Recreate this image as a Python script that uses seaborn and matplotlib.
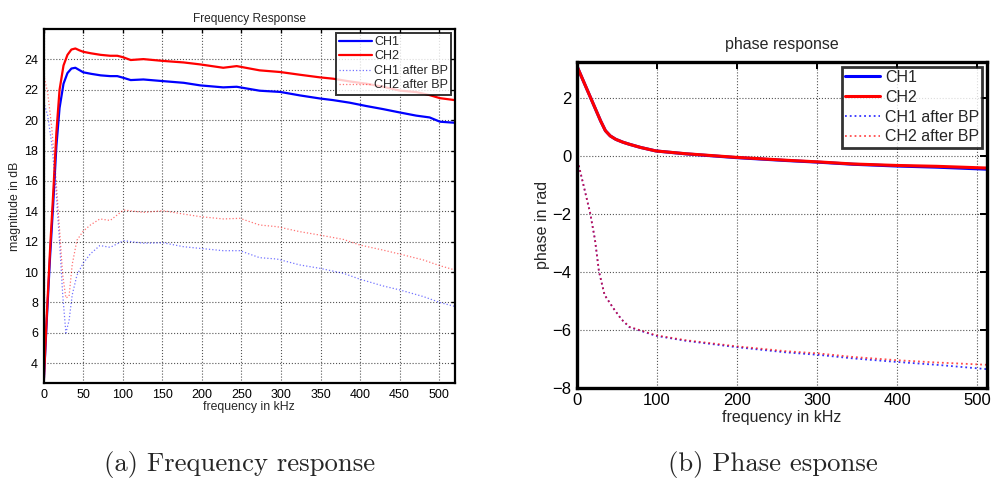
import numpy as np
import pandas as pd
import matplotlib
matplotlib.use("Agg")
import matplotlib.pyplot as plt
import seaborn as sns

# magnitude response
f_mag = [0, 4, 8, 12, 16, 20, 25, 30, 35, 40, 45, 50, 60, 72, 84, 93, 100, 110, 126, 151, 177, 198, 227,
         244, 273, 299, 324, 349, 366, 387, 408, 429, 450, 471, 488, 501, 520]
ch1_mag = [2.7, 7.0, 11.0, 14.5, 18.3, 20.8, 22.4, 23.1, 23.4, 23.45, 23.3, 23.15, 23.05, 22.95, 22.9, 22.9,
           22.8, 22.64, 22.68, 22.57, 22.46, 22.29, 22.16, 22.2, 21.94, 21.86, 21.63, 21.43, 21.32, 21.15,
           20.93, 20.73, 20.51, 20.3, 20.18, 19.9, 19.83]
ch2_mag = [2.7, 7.3, 11.5, 15.2, 19.2, 22.0, 23.6, 24.3, 24.65, 24.72, 24.6, 24.5, 24.4, 24.3, 24.24, 24.24,
           24.15, 23.96, 24.02, 23.9, 23.8, 23.67, 23.45, 23.56, 23.28, 23.17, 22.99, 22.82, 22.73, 22.55,
           22.4, 22.2, 21.95, 21.85, 21.65, 21.45, 21.32]

f_bp = [0, 5, 10, 15, 20, 24, 28, 32, 36, 42, 50, 59, 71, 84, 101, 126, 151, 177, 198, 227, 248, 273, 295,
        324, 349, 379, 400, 429, 450, 480, 501, 520]
ch1_bp_mag = [21.2, 20.3, 18.5, 15.8, 12.0, 8.5, 6.0, 6.8, 8.5, 9.8, 10.6, 11.2, 11.75, 11.63, 12.07, 11.9,
              11.93, 11.67, 11.56, 11.41, 11.41, 10.95, 10.86, 10.47, 10.25, 9.92, 9.53, 9.09, 8.83, 8.39,
              8.0, 7.74]
ch2_bp_mag = [23.0, 21.8, 19.6, 16.5, 12.8, 9.8, 8.3, 8.4, 10.5, 12.1, 12.7, 13.1, 13.5, 13.4, 14.09, 13.93,
              14.04, 13.82, 13.65, 13.5, 13.54, 13.1, 12.99, 12.66, 12.44, 12.15, 11.78, 11.45, 11.19, 10.8,
              10.42, 10.14]

# phase response
f_ph = [0, 10, 20, 30, 36, 42, 49, 58, 66, 80, 99, 136, 199, 261, 303, 345, 399, 449, 512]
ch1_ph = [3.14, 2.5, 1.86, 1.22, 0.88, 0.7, 0.58, 0.48, 0.41, 0.3, 0.18, 0.08, -0.05, -0.15, -0.21, -0.28,
          -0.34, -0.38, -0.45]
ch2_ph = [3.14, 2.5, 1.86, 1.22, 0.88, 0.7, 0.58, 0.48, 0.41, 0.3, 0.18, 0.085, -0.04, -0.14, -0.2, -0.27,
          -0.32, -0.35, -0.41]
f_ph_bp = [0, 4, 10, 17, 23, 28, 35, 46, 56, 66, 99, 136, 199, 261, 303, 345, 399, 449, 512]
ch1_bp_ph = [0.0, -0.46, -1.15, -1.96, -2.88, -3.98, -4.79, -5.25, -5.63, -5.9, -6.2, -6.37, -6.59, -6.77,
             -6.86, -6.98, -7.1, -7.2, -7.35]
ch2_bp_ph = [0.0, -0.46, -1.15, -1.96, -2.88, -3.98, -4.79, -5.25, -5.63, -5.89, -6.18, -6.35, -6.56, -6.73,
             -6.81, -6.93, -7.04, -7.12, -7.2]

labels = ["CH1", "CH2", "CH1 after BP", "CH2 after BP"]

sns.set_style("white")
plt.rcParams['font.family'] = ['Liberation Sans', 'DejaVu Sans']

fig = plt.figure(figsize=(9.94, 4.79), dpi=100)
ax1 = fig.add_axes([0.044, 0.2004, 0.4137, 0.739])
ax2 = fig.add_axes([0.58, 0.19, 0.413, 0.6806])


def style_axes(ax, fs, lw, ticklen, pad):
    ax.grid(True, linestyle=":", color="#555555", linewidth=0.8)
    ax.tick_params(direction="in", top=True, right=True, labelsize=fs, length=ticklen,
                   width=lw * 0.6, colors="black", pad=pad)
    for s in ax.spines.values():
        s.set_linewidth(lw)
        s.set_color("black")


# (a) frequency response
sns.lineplot(x=f_mag, y=ch1_mag, ax=ax1, color="blue", lw=1.6, label=labels[0])
sns.lineplot(x=f_mag, y=ch2_mag, ax=ax1, color="red", lw=1.6, label=labels[1])
sns.lineplot(x=f_bp, y=ch1_bp_mag, ax=ax1, color="blue", lw=0.9, alpha=0.55, linestyle=":", label=labels[2])
sns.lineplot(x=f_bp, y=ch2_bp_mag, ax=ax1, color="red", lw=0.9, alpha=0.55, linestyle=":", label=labels[3])
ax1.set_xlim(0, 520)
ax1.set_ylim(2.7, 26)
ax1.set_xticks(np.arange(0, 501, 50))
ax1.set_yticks(np.arange(4, 25, 2))
ax1.set_title("Frequency Response", fontsize=8.6, pad=5)
style_axes(ax1, 9, 1.6, 3, 4)
ax1.set_xlabel("frequency in kHz", fontsize=8.8, labelpad=0)
ax1.set_ylabel("magnitude in dB", fontsize=8.8, labelpad=2)
leg1 = ax1.legend(loc="upper right", fontsize=9, frameon=True, fancybox=False, borderpad=0.25,
                  labelspacing=0.2, handlelength=2.6, handletextpad=0.2, borderaxespad=0.3)
leg1.get_frame().set_edgecolor("black")
leg1.get_frame().set_linewidth(1.4)

# (b) phase response
sns.lineplot(x=f_ph, y=ch1_ph, ax=ax2, color="blue", lw=2.2, label=labels[0])
sns.lineplot(x=f_ph, y=ch2_ph, ax=ax2, color="red", lw=2.2, label=labels[1])
sns.lineplot(x=f_ph_bp, y=ch1_bp_ph, ax=ax2, color="blue", lw=1.3, alpha=0.8, linestyle=":", label=labels[2])
sns.lineplot(x=f_ph_bp, y=ch2_bp_ph, ax=ax2, color="red", lw=1.3, alpha=0.7, linestyle=":", label=labels[3])
ax2.set_xlim(0, 512)
ax2.set_ylim(-8, 3.25)
ax2.set_xticks(np.arange(0, 501, 100))
ax2.set_yticks(np.arange(-8, 3, 2))
ax2.set_title("phase response", fontsize=11.5, pad=9)
style_axes(ax2, 12, 2.4, 5, 3.5)
ax2.set_xlabel("frequency in kHz", fontsize=11.5, labelpad=1.5)
ax2.set_ylabel("phase in rad", fontsize=11.5, labelpad=2)
leg2 = ax2.legend(loc="upper right", fontsize=11.5, frameon=True, fancybox=False, borderpad=0.2,
                  labelspacing=0.3, handlelength=2.2, handletextpad=0.3, borderaxespad=0.3)
leg2.get_frame().set_edgecolor("black")
leg2.get_frame().set_linewidth(2.0)

# sub captions
fig.text(0.2415, 0.031, "(a) Frequency response", fontsize=19.2, family="cmr10", ha="center", va="center")
fig.text(0.7775, 0.031, "(b) Phase esponse", fontsize=19.2, family="cmr10", ha="center", va="center")

fig.savefig("out.png", dpi=100)
